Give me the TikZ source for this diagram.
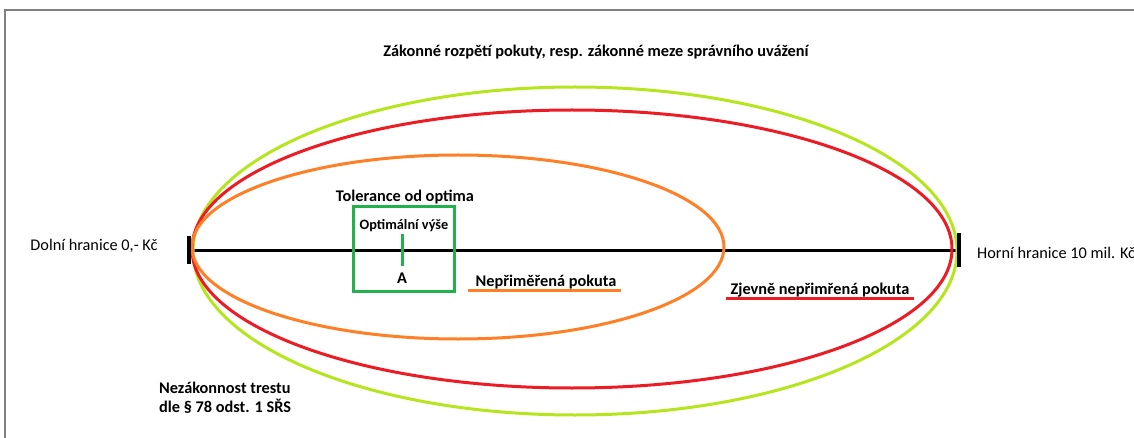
\documentclass[tikz,border=0pt]{standalone}
\usepackage{fontspec}
\setmainfont{Carlito}
\definecolor{limegreen}{HTML}{B5E61D}
\definecolor{paintred}{HTML}{ED1C24}
\definecolor{paintorange}{HTML}{FF7F27}
\definecolor{boxgreen}{HTML}{22B14C}
\colorlet{framegray}{black!50}

\begin{document}
\begin{tikzpicture}[x=1pt,y=-1pt,
    plain text/.style={font=\fontsize{16.3}{19}\selectfont, inner sep=1pt},
    bold text/.style={font=\fontsize{16.3}{19}\selectfont\bfseries, inner sep=1pt},
    oval/.style={line width=3pt}]
\useasboundingbox (0,0) rectangle (1134,438);
\draw[framegray, line width=2pt] (5,438) -- (5,10) -- (1134,10);
% axis
\coordinate (lo) at (192,251);
\coordinate (hi) at (957,251);
\draw[line width=3pt] (lo) -- (hi);
% ranges
\draw[limegreen, oval] (575,251) ellipse [x radius=382, y radius=164];
\draw[paintred, oval] (572,249) ellipse [x radius=380, y radius=139];
\draw[paintorange, oval] (458,247) ellipse [x radius=266, y radius=92];
% bounds
\draw[line width=4pt] (189,236) -- (189,264);
\draw[line width=4pt] (959,233) -- (959,267);
% optimum
\node[draw=boxgreen, line width=3pt, minimum width=101, minimum height=84] (tol) at (403.5,249) {};
\draw[boxgreen, line width=3pt] (402,234) -- (402,266);
\node[bold text] (title) at (596,52) {Zákonné rozpětí pokuty, resp. zákonné meze správního uvážení};
\node[plain text] (dolni) at (94,246) {Dolní hranice 0,- Kč};
\node[plain text, anchor=west] (horni) at (976,253) {Horní hranice 10 mil. Kč};
\node[bold text] (toltext) at (405,197) {Tolerance od optima};
\node[bold text, font=\fontsize{14.3}{17}\selectfont\bfseries] (opt) at (404,226) {Optimální výše};
\node[bold text] (a) at (402,278) {A};
\node[bold text] (nep) at (546,282) {Nepřiměřená pokuta};
\draw[paintorange, line width=3pt] ([xshift=-6pt]nep.south west) -- ([xshift=3pt]nep.south east);
\node[bold text] (zjev) at (820,290) {Zjevně nepřimřená pokuta};
\draw[paintred, line width=3pt] ([xshift=-3pt]zjev.south west) -- ([xshift=3pt]zjev.south east);
\node[bold text, align=left, anchor=north west] (nezak) at (158,381) {Nezákonnost trestu\\dle § 78 odst. 1 SŘS};
\end{tikzpicture}
\end{document}
